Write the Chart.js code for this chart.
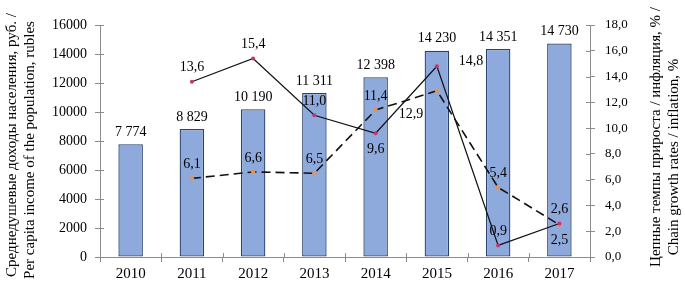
<!DOCTYPE html>
<html>
<head>
<meta charset="utf-8">
<script src="https://cdn.jsdelivr.net/npm/chart.js@4/dist/chart.umd.min.js"></script>
<style>
  html, body { margin: 0; padding: 0; background: #fff; }
  #wrap { width: 685px; height: 290px; position: relative; }
</style>
</head>
<body>
<div id="wrap"><canvas id="incomeChart"></canvas></div>
<script>
// data
const years = ['2010', '2011', '2012', '2013', '2014', '2015', '2016', '2017'];
const income = [7774, 8829, 10190, 11311, 12398, 14230, 14351, 14730];
const growth = [null, 13.6, 15.4, 11.0, 9.6, 14.8, 0.9, 2.6];
const inflation = [null, 6.1, 6.6, 6.5, 11.4, 12.9, 5.4, 2.5];

// where each point label sits
const incomeLabelPos = ['above', 'above', 'above', 'above', 'above', 'above', 'above', 'above'];
const growthLabelPos = [null, 'above', 'above', 'above', 'below', 'right', 'above', 'above'];
const inflationLabelPos = [null, 'above', 'above', 'above', 'above', 'leftBelow', 'above', 'below'];

const leftTitle = ['Среднедушевые доходы населения, руб. /', 'Per capita income of the population, rubles'];
const rightTitle = ['Цепные темпы прироста / инфляция, % /', 'Chain growth rates / inflation, %'];

const FONT = "'Liberation Serif', 'Times New Roman', serif";
const AXIS = '#8c8c8c';

const fmtInt = v => String(v).replace(/\B(?=(\d{3})+(?!\d))/g, ' ');
const fmtDec = v => v.toFixed(1).replace('.', ',');

const offsets = {
  above: [0, -14],
  below: [0, 16],
  right: [34, -5],
  leftBelow: [-26, 24],
};

const labelsPlugin = {
  id: 'pointLabels',
  afterDatasetsDraw(chart) {
    const ctx = chart.ctx;
    ctx.save();
    ctx.font = '14px ' + FONT;
    ctx.fillStyle = '#000';
    ctx.textAlign = 'center';
    ctx.textBaseline = 'middle';
    chart.data.datasets.forEach((ds, i) => {
      const meta = chart.getDatasetMeta(i);
      meta.data.forEach((el, j) => {
        const v = ds.data[j];
        const pos = ds.labelPos[j];
        if (v == null || !pos) return;
        const [dx, dy] = offsets[pos];
        const y = ds.type === 'bar' ? el.y - 12 : el.y + dy;
        ctx.fillText(ds.fmt(v), el.x + dx, y);
      });
    });
    ctx.restore();
  },
};

const titlesPlugin = {
  id: 'sideTitles',
  afterDraw(chart) {
    const ctx = chart.ctx;
    ctx.save();
    ctx.font = '15px ' + FONT;
    ctx.fillStyle = '#000';
    ctx.textAlign = 'center';
    ctx.textBaseline = 'middle';
    const put = (text, x, y) => {
      ctx.save();
      ctx.translate(x, y);
      ctx.rotate(-Math.PI / 2);
      ctx.fillText(text, 0, 0);
      ctx.restore();
    };
    put(leftTitle[0], 12, 145);
    put(leftTitle[1], 30, 150);
    put(rightTitle[0], 656, 137);
    put(rightTitle[1], 674, 157);
    ctx.restore();
  },
};

// short tick marks that cross the axis lines, like the original
const crossTicks = {
  id: 'crossTicks',
  afterDraw(chart) {
    const ctx = chart.ctx;
    const { x, y, y1 } = chart.scales;
    ctx.save();
    ctx.strokeStyle = AXIS;
    ctx.lineWidth = 1;
    ctx.beginPath();
    y.ticks.forEach((t, i) => {
      const py = Math.round(y.getPixelForTick(i)) + 0.5;
      ctx.moveTo(y.right, py); ctx.lineTo(y.right + 4, py);
    });
    y1.ticks.forEach((t, i) => {
      const py = Math.round(y1.getPixelForTick(i)) + 0.5;
      ctx.moveTo(y1.left - 4, py); ctx.lineTo(y1.left, py);
    });
    const step = (x.right - x.left) / years.length;
    for (let i = 1; i < years.length; i++) {
      const px = Math.round(x.left + step * i) + 0.5;
      ctx.moveTo(px, x.top - 4); ctx.lineTo(px, x.top);
    }
    ctx.stroke();
    ctx.restore();
  },
};

new Chart(document.getElementById('incomeChart'), {
  type: 'bar',
  data: {
    labels: years,
    datasets: [
      {
        type: 'line',
        label: 'growth',
        data: growth,
        labelPos: growthLabelPos,
        fmt: fmtDec,
        yAxisID: 'y1',
        borderColor: '#111',
        borderWidth: 1.2,
        pointRadius: 2,
        pointBorderWidth: 0,
        pointBackgroundColor: '#c8326e',
        tension: 0,
        order: 1,
      },
      {
        type: 'line',
        label: 'inflation',
        data: inflation,
        labelPos: inflationLabelPos,
        fmt: fmtDec,
        yAxisID: 'y1',
        borderColor: '#111',
        borderWidth: 1.6,
        borderDash: [9, 5],
        pointRadius: 2.2,
        pointBorderWidth: 0,
        pointBackgroundColor: '#e0945a',
        tension: 0,
        order: 2,
      },
      {
        type: 'bar',
        label: 'income',
        data: income,
        labelPos: incomeLabelPos,
        fmt: fmtInt,
        yAxisID: 'y',
        backgroundColor: '#8eaadc',
        borderColor: '#2a426e',
        borderWidth: 1.3,
        borderSkipped: false,
        categoryPercentage: 1,
        barPercentage: 0.4,
        order: 3,
      },
    ],
  },
  options: {
    responsive: true,
    maintainAspectRatio: false,
    animation: false,
    layout: { padding: { top: 25, left: 0, right: 0, bottom: 0 } },
    plugins: {
      legend: { display: false },
      tooltip: { enabled: false },
    },
    scales: {
      x: {
        offset: true,
        grid: { offset: true, drawOnChartArea: false, color: AXIS, tickLength: 5 },
        border: { color: AXIS },
        ticks: { color: '#000', font: { family: FONT, size: 15 }, padding: 3 },
        afterFit: s => { s.height = 33; },
      },
      y: {
        position: 'left',
        min: 0,
        max: 16000,
        grid: { drawOnChartArea: false, color: AXIS, tickLength: 5 },
        border: { color: AXIS },
        ticks: {
          stepSize: 2000,
          color: '#000',
          font: { family: FONT, size: 14 },
          padding: 8,
          callback: v => String(v),
        },
        afterFit: s => { s.width = 100; },
      },
      y1: {
        position: 'right',
        min: 0,
        max: 18,
        grid: { drawOnChartArea: false, color: AXIS, tickLength: 5 },
        border: { color: AXIS },
        ticks: {
          stepSize: 2,
          color: '#000',
          font: { family: FONT, size: 13 },
          padding: 10,
          callback: v => fmtDec(v),
        },
        afterFit: s => { s.width = 95; },
      },
    },
  },
  plugins: [labelsPlugin, titlesPlugin, crossTicks],
});
</script>
</body>
</html>
